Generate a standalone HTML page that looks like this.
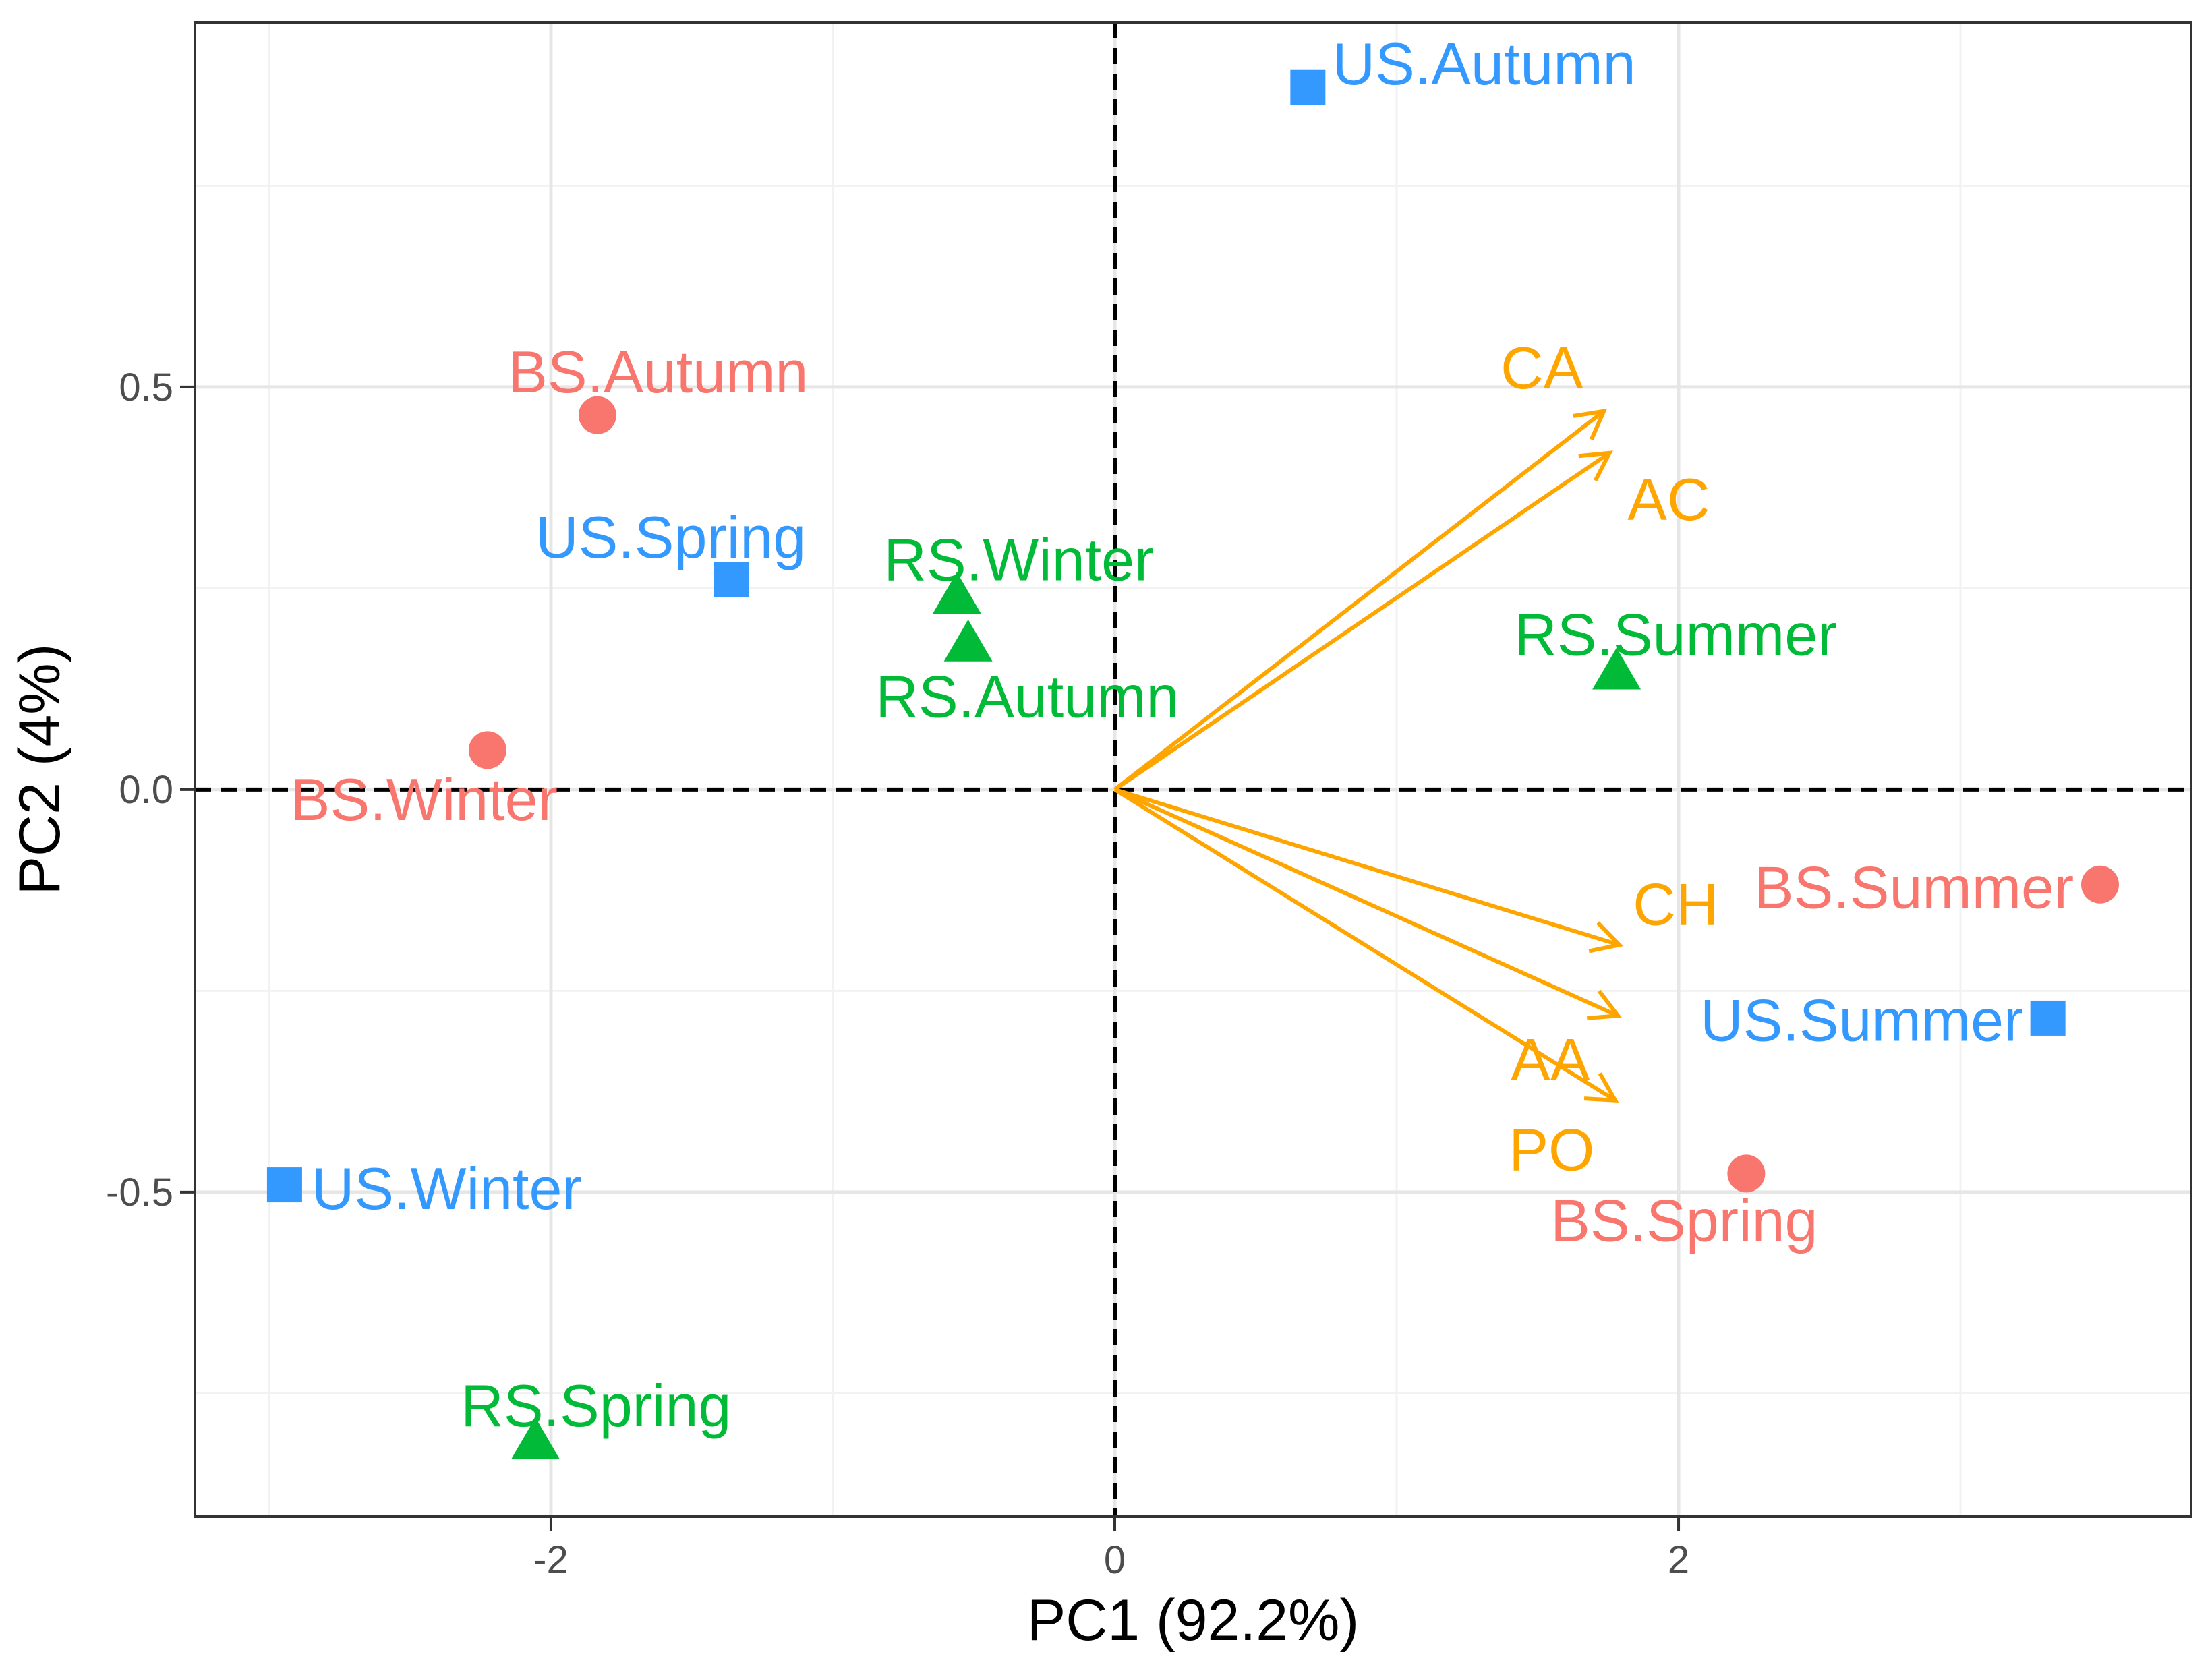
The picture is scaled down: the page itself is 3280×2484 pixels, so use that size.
<!DOCTYPE html>
<html><head><meta charset="utf-8"><style>
html,body{margin:0;padding:0;background:#fff;}
svg{display:block;}
text{font-family:"Liberation Sans",Arial,sans-serif;}
</style></head><body>
<svg id="chart" xmlns="http://www.w3.org/2000/svg" width="3280" height="2484" viewBox="0 0 3280 2484">
<rect x="0" y="0" width="3280" height="2484" fill="#fff"/>
<g id="grid"></g>
<g id="refs"></g>
<g id="arrows"></g>
<g id="points"></g>
<g id="labels"></g>
<rect x="289" y="33" width="2960" height="2216" fill="none" stroke="#333" stroke-width="4"/>
<g id="axes"></g>
<text x="1769" y="2432" font-size="86" text-anchor="middle" fill="#000">PC1 (92.2%)</text>
<text transform="translate(88,1141) rotate(-90)" font-size="86" text-anchor="middle" fill="#000">PC2 (4%)</text>
</svg>
<script>
const sampleNames = ["US.Autumn","BS.Autumn","US.Spring","RS.Winter","RS.Autumn","BS.Winter","RS.Summer","BS.Summer","US.Summer","BS.Spring","US.Winter","RS.Spring"];
const sampleGroup = ["US","BS","US","RS","RS","BS","RS","BS","US","BS","US","RS"];
const pc1 = [0.685,-1.835,-1.36,-0.56,-0.52,-2.225,1.78,3.495,3.31,2.24,-2.945,-2.055];
const pc2 = [0.872,0.465,0.261,0.240,0.181,0.049,0.146,-0.118,-0.284,-0.477,-0.491,-0.81];
const labelX = [1.31,-1.62,-1.575,-0.34,-0.31,-2.45,1.99,2.835,2.65,2.02,-2.37,-1.84];
const labelY = [0.902,0.519,0.314,0.286,0.116,-0.012,0.193,-0.121,-0.286,-0.535,-0.495,-0.765];
const loadNames = ["CA","AC","CH","AA","PO"];
const loadX = [1.735,1.755,1.79,1.785,1.775];
const loadY = [0.47,0.418,-0.193,-0.281,-0.386];
const loadLabelX = [1.515,1.965,1.99,1.545,1.55];
const loadLabelY = [0.524,0.361,-0.142,-0.335,-0.447];
const xMajor = [-2,0,2];
const xMinor = [-3,-1,1,3];
const yMajor = [-0.5,0,0.5];
const yMinor = [-0.75,-0.25,0.25,0.75];
const xTickLabels = ["-2","0","2"];
const yTickLabels = ["-0.5","0.0","0.5"];

const NS="http://www.w3.org/2000/svg";
const X0=289,X1=3249,Y0=33,Y1=2249;
const xmin=-3.263,xmax=3.818,ymin=-0.903,ymax=0.953;
const sx=v=>X0+(v-xmin)/(xmax-xmin)*(X1-X0);
const sy=v=>Y1-(v-ymin)/(ymax-ymin)*(Y1-Y0);
const colors={US:"#3399FF",BS:"#F8766D",RS:"#00BA38"};
function mk(tag,attrs,parent){const e=document.createElementNS(NS,tag);for(const k in attrs)e.setAttribute(k,attrs[k]);parent.appendChild(e);return e;}
const grid=document.getElementById('grid'),refs=document.getElementById('refs'),arrows=document.getElementById('arrows'),pts=document.getElementById('points'),labs=document.getElementById('labels'),axes=document.getElementById('axes');

xMinor.forEach(v=>{const l=mk('line',{x1:sx(v),x2:sx(v),y1:Y0,y2:Y1,stroke:'#f2f2f2','stroke-width':3},grid);

});
yMinor.forEach(v=>{const l=mk('line',{x1:X0,x2:X1,y1:sy(v),y2:sy(v),stroke:'#f2f2f2','stroke-width':3},grid);

});
xMajor.forEach((v,i)=>{const l=mk('line',{x1:sx(v),x2:sx(v),y1:Y0,y2:Y1,stroke:'#e6e6e6','stroke-width':5},grid);


const t=mk('line',{x1:sx(v),x2:sx(v),y1:Y1,y2:Y1+22,stroke:'#333','stroke-width':4},axes);


const tx=mk('text',{x:sx(v),y:Y1+84,'font-size':58,'text-anchor':'middle',fill:'#4d4d4d'},axes);tx.textContent=xTickLabels[i];

});
yMajor.forEach((v,i)=>{const l=mk('line',{x1:X0,x2:X1,y1:sy(v),y2:sy(v),stroke:'#e6e6e6','stroke-width':5},grid);


const t=mk('line',{x1:X0-22,x2:X0,y1:sy(v),y2:sy(v),stroke:'#333','stroke-width':4},axes);


const tx=mk('text',{x:X0-32,y:sy(v)+20,'font-size':58,'text-anchor':'end',fill:'#4d4d4d'},axes);tx.textContent=yTickLabels[i];

});

const vz=mk('line',{x1:sx(0),x2:sx(0),y1:Y0,y2:Y1,stroke:'#000','stroke-width':6,'stroke-dasharray':'24 14'},refs);


const hz=mk('line',{x1:X0,x2:X1,y1:sy(0),y2:sy(0),stroke:'#000','stroke-width':6,'stroke-dasharray':'24 14'},refs);



loadNames.forEach((n,i)=>{
const x1=sx(0),y1=sy(0),x2=sx(loadX[i]),y2=sy(loadY[i]);
const ang=Math.atan2(y2-y1,x2-x1),L=46,a=0.5;
const g=mk('g',{},arrows);


mk('line',{x1:x1,y1:y1,x2:x2,y2:y2,stroke:'#FFA500','stroke-width':6},g);
mk('polyline',{points:`${x2-L*Math.cos(ang-a)},${y2-L*Math.sin(ang-a)} ${x2},${y2} ${x2-L*Math.cos(ang+a)},${y2-L*Math.sin(ang+a)}`,fill:'none',stroke:'#FFA500','stroke-width':6},g);
const t=mk('text',{x:sx(loadLabelX[i]),y:sy(loadLabelY[i])+31,'font-size':88,'text-anchor':'middle',fill:'#FFA500'},labs);t.textContent=n;


});

sampleNames.forEach((n,i)=>{
const x=sx(pc1[i]),y=sy(pc2[i]),c=colors[sampleGroup[i]];let m;
if(sampleGroup[i]==='US') m=mk('rect',{x:x-26,y:y-26,width:52,height:52,fill:c},pts);
else if(sampleGroup[i]==='BS') m=mk('circle',{cx:x,cy:y,r:28,fill:c},pts);
else m=mk('polygon',{points:`${x},${y-36} ${x+36},${y+26} ${x-36},${y+26}`,fill:c},pts);


const t=mk('text',{x:sx(labelX[i]),y:sy(labelY[i])+31,'font-size':88,'text-anchor':'middle',fill:c},labs);t.textContent=n;


});
</script>
</body></html>
